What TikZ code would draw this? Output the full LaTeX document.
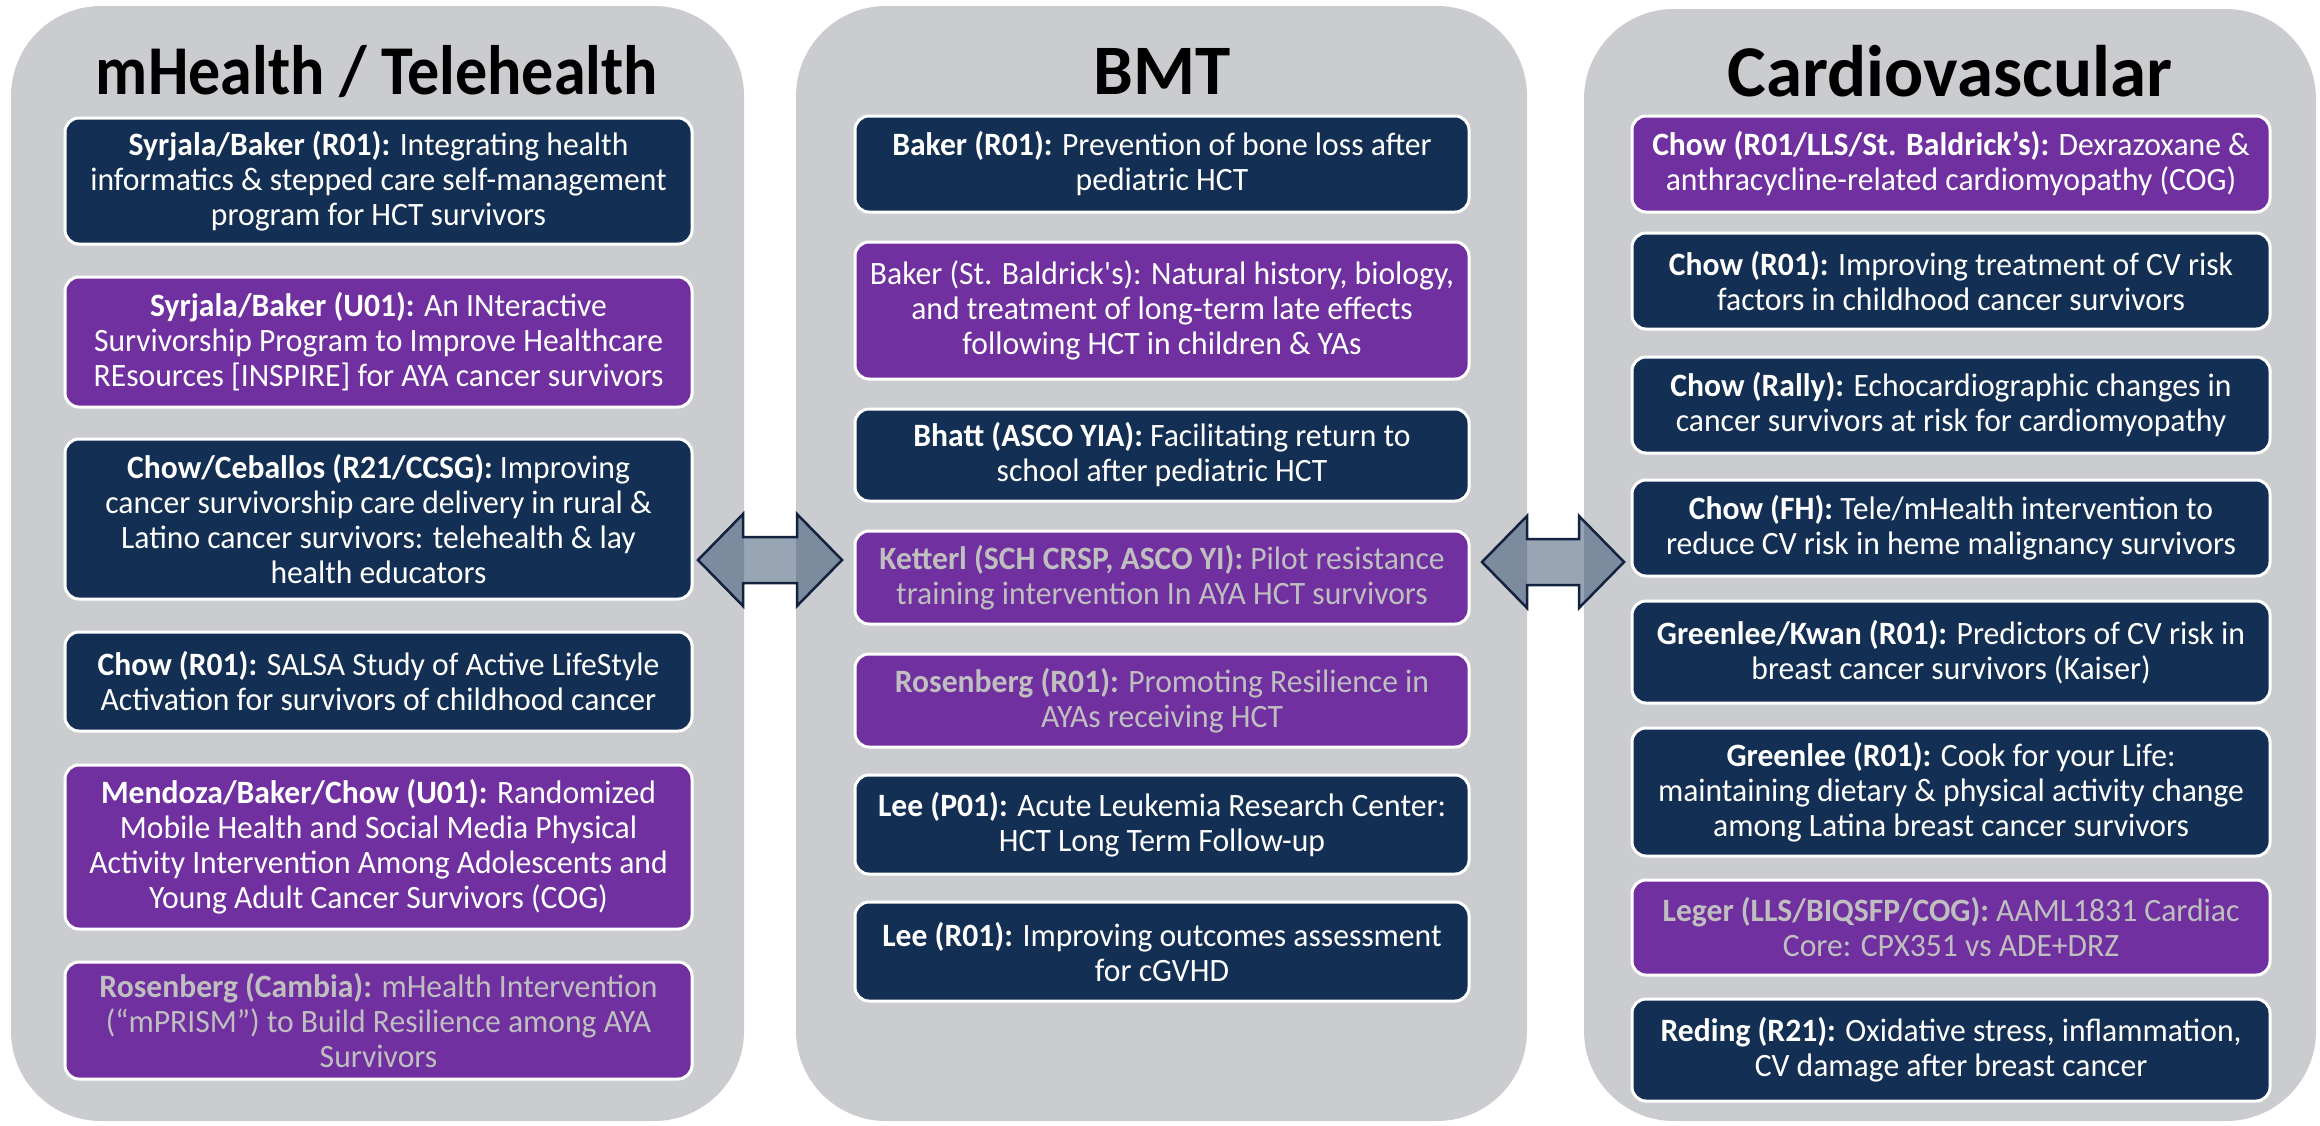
\documentclass[tikz,border=0pt]{standalone}
\usepackage{fontspec}
\setmainfont{Carlito}
\newfontfamily\bodyfont{Carlito}[FakeStretch=0.97]
\newfontfamily\narrowfont{Carlito}[FakeStretch=0.915]
\usepackage{xcolor}

\definecolor{panelgray}{HTML}{CBCCD0}
\definecolor{navy}{HTML}{132F53}
\definecolor{grantpurple}{HTML}{7030A0}
\definecolor{dimtext}{HTML}{BFBFBF}
\definecolor{arrowfill}{HTML}{2F4B6B}
\definecolor{arrowline}{HTML}{13233F}

\tikzset{
  panel/.style={fill=panelgray, rounded corners=90pt},
  heading/.style={anchor=base, font=\bfseries},
  grant/.style={draw=white, line width=3pt, rounded corners=14pt, text=white,
    align=center, inner sep=0pt, font=\bodyfont\fontsize{32.6}{35}\selectfont},
  navybox/.style={grant, fill=navy},
  purplebox/.style={grant, fill=grantpurple},
  dim/.style={text=dimtext},
  leftcol/.style={minimum width=627pt},
  midcol/.style={minimum width=614pt},
  rightcol/.style={minimum width=638pt},
  twoway/.style={fill=arrowfill, fill opacity=0.5, draw=arrowline, line width=2.5pt}
}

\begin{document}
\begin{tikzpicture}[x=1pt, y=-1pt]
\useasboundingbox (0,0) rectangle (2320,1125);

%%%panels
\fill[panel] (11,6) rectangle (744,1121);
\fill[panel] (796,6) rectangle (1527,1121);
\fill[panel] (1584,9) rectangle (2316,1121);

\node[heading] (mhtitle) at (377,94) {\narrowfont\fontsize{70}{82}\selectfont mHealth / Telehealth};
\node[heading] (bmttitle) at (1162,94) {\fontsize{71}{83}\selectfont BMT};
\node[heading] (cvtitle) at (1950,96) {\fontsize{73}{85}\selectfont Cardiovascular};

%%%arrows between panels
\draw[twoway] (698,560) -- (743,514) -- (743,537) -- (797,537) -- (797,514)
  -- (842,560) -- (797,606) -- (797,583) -- (743,583) -- (743,606) -- cycle;
\draw[twoway] (1482,562) -- (1527,516) -- (1527,539) -- (1579,539) -- (1579,516)
  -- (1624,562) -- (1579,608) -- (1579,585) -- (1527,585) -- (1527,608) -- cycle;

%%%mHealth / Telehealth
\node[navybox, leftcol, minimum height=126pt] (mh1) at (378.5,181)
  {\textbf{Syrjala/Baker (R01):} Integrating health\\informatics \& stepped care self-management\\program for HCT survivors};
\node[purplebox, leftcol, minimum height=130pt] (mh2) at (378.5,342)
  {\textbf{Syrjala/Baker (U01):} An INteractive\\Survivorship Program to Improve Healthcare\\REsources [INSPIRE] for AYA cancer survivors};
\node[navybox, leftcol, minimum height=160pt] (mh3) at (378.5,519)
  {\textbf{Chow/Ceballos (R21/CCSG):} Improving\\cancer survivorship care delivery in rural \&\\Latino cancer survivors: telehealth \& lay\\health educators};
\node[navybox, leftcol, minimum height=99pt] (mh4) at (378.5,681.5)
  {\textbf{Chow (R01):} SALSA Study of Active LifeStyle\\Activation for survivors of childhood cancer};
\node[purplebox, leftcol, minimum height=164pt] (mh5) at (378.5,847)
  {\textbf{Mendoza/Baker/Chow (U01):} Randomized\\Mobile Health and Social Media Physical\\Activity Intervention Among Adolescents and\\Young Adult Cancer Survivors (COG)};
\node[purplebox, dim, leftcol, minimum height=117pt] (mh6) at (378.5,1020.5)
  {\textbf{Rosenberg (Cambia):} mHealth Intervention\\(“mPRISM”) to Build Resilience among AYA\\Survivors};

%%%BMT
\node[navybox, midcol, minimum height=96pt] (bmt1) at (1162,164)
  {\textbf{Baker (R01):} Prevention of bone loss after\\pediatric HCT};
\node[purplebox, midcol, minimum height=137pt] (bmt2) at (1162,310.5)
  {Baker (St. Baldrick\textquotesingle s): Natural history, biology,\\and treatment of long-term late effects\\following HCT in children \& YAs};
\node[navybox, midcol, minimum height=92pt] (bmt3) at (1162,455)
  {\textbf{Bhatt (ASCO YIA):} Facilitating return to\\school after pediatric HCT};
\node[purplebox, dim, midcol, minimum height=93pt] (bmt4) at (1162,577.5)
  {\textbf{Ketterl (SCH CRSP, ASCO YI):} Pilot resistance\\training intervention In AYA HCT survivors};
\node[purplebox, dim, midcol, minimum height=93pt] (bmt5) at (1162,700.5)
  {\textbf{Rosenberg (R01):} Promoting Resilience in\\AYAs receiving HCT};
\node[navybox, midcol, minimum height=99pt] (bmt6) at (1162,824.5)
  {\textbf{Lee (P01):} Acute Leukemia Research Center:\\HCT Long Term Follow-up};
\node[navybox, midcol, minimum height=99pt] (bmt7) at (1162,951.5)
  {\textbf{Lee (R01):} Improving outcomes assessment\\for cGVHD};

%%%Cardiovascular
\node[purplebox, rightcol, minimum height=96pt] (cv1) at (1951,164)
  {\textbf{Chow (R01/LLS/St. Baldrick’s):} Dexrazoxane \&\\anthracycline-related cardiomyopathy (COG)};
\node[navybox, rightcol, minimum height=96pt] (cv2) at (1951,281)
  {\textbf{Chow (R01):} Improving treatment of CV risk\\factors in childhood cancer survivors};
\node[navybox, rightcol, minimum height=96pt] (cv3) at (1951,405)
  {\textbf{Chow (Rally):} Echocardiographic changes in\\cancer survivors at risk for cardiomyopathy};
\node[navybox, rightcol, minimum height=96pt] (cv4) at (1951,528)
  {\textbf{Chow (FH):} Tele/mHealth intervention to\\reduce CV risk in heme malignancy survivors};
\node[navybox, rightcol, minimum height=102pt] (cv5) at (1951,652)
  {\textbf{Greenlee/Kwan (R01):} Predictors of CV risk in\\breast cancer survivors (Kaiser)};
\node[navybox, rightcol, minimum height=128pt] (cv6) at (1951,792)
  {\textbf{Greenlee (R01):} Cook for your Life:\\maintaining dietary \& physical activity change\\among Latina breast cancer survivors};
\node[purplebox, dim, rightcol, minimum height=95pt] (cv7) at (1951,927.5)
  {\textbf{Leger (LLS/BIQSFP/COG):} AAML1831 Cardiac\\Core: CPX351 vs ADE+DRZ};
\node[navybox, rightcol, minimum height=102pt] (cv8) at (1951,1050)
  {\textbf{Reding (R21):} Oxidative stress, inflammation,\\CV damage after breast cancer};

\end{tikzpicture}
\end{document}
